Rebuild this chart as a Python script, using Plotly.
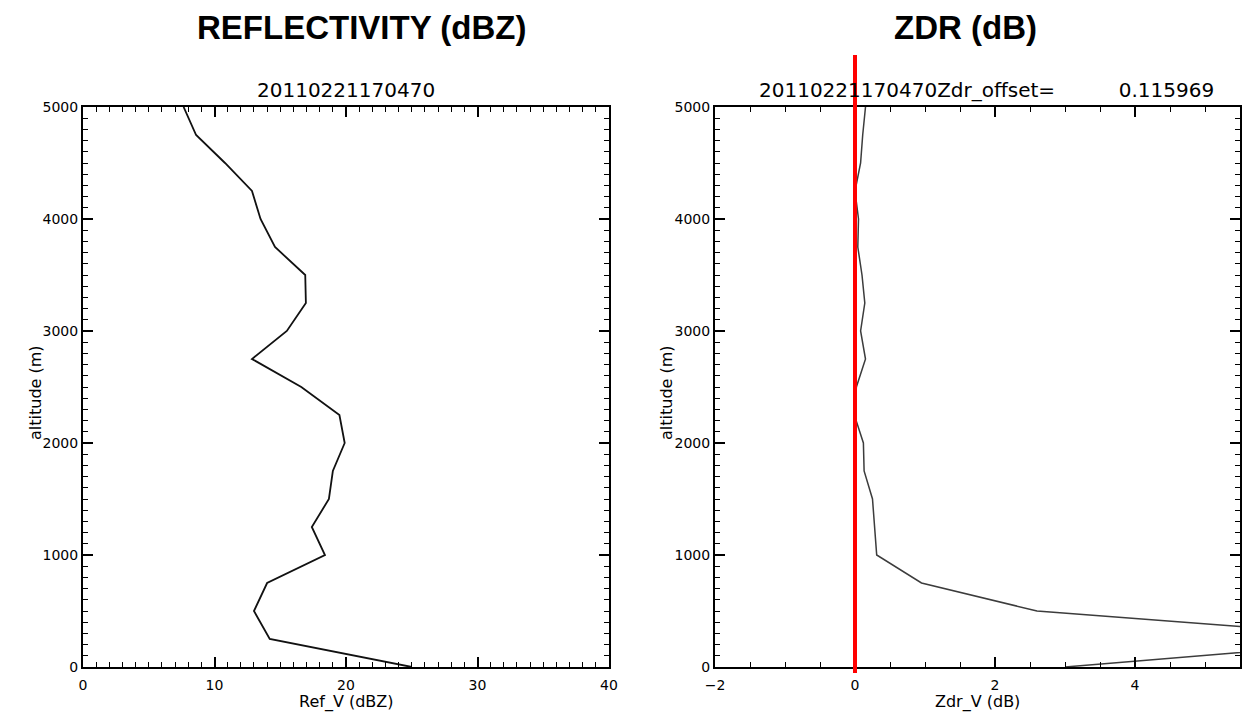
import plotly.graph_objects as go

# ---- data ----
altitude_m = [0, 250, 500, 750, 1000, 1250, 1500, 1750, 2000, 2250, 2500,
              2750, 3000, 3250, 3500, 3750, 4000, 4250, 4500, 4750, 5000]
ref_dbz = [25.0, 14.2, 13.0, 14.0, 18.4, 17.4, 18.7, 19.0, 19.9, 19.5, 16.6,
           12.85, 15.5, 16.95, 16.9, 14.6, 13.5, 12.85, 10.8, 8.6, 7.65]
zdr_db = [3.0, 7.8, 2.6, 0.95, 0.31, 0.28, 0.25, 0.13, 0.12, -0.01, 0.02,
          0.15, 0.08, 0.14, 0.10, 0.04, 0.05, 0.0, 0.08, 0.11, 0.15]
ref_ticks = [0, 10, 20, 30, 40]
zdr_ticks = [-2, 0, 2, 4]
alt_ticks = [0, 1000, 2000, 3000, 4000, 5000]
zdr_reference = 0.0

W, H = 1246, 715
T, B = 107, 48
PH = H - T - B


def py(px):
    return (H - B - px) / PH


fig = go.Figure()
fig.add_trace(go.Scatter(x=ref_dbz, y=altitude_m, mode="lines",
                         line=dict(color="#111111", width=1.8),
                         xaxis="x", yaxis="y", showlegend=False))
fig.add_trace(go.Scatter(x=zdr_db, y=altitude_m, mode="lines",
                         line=dict(color="#3c3c3c", width=1.5),
                         xaxis="x2", yaxis="y2", showlegend=False))

tickfont = dict(family="DejaVu Sans", size=14, color="black")
common = dict(showline=True, linecolor="black", linewidth=2, mirror="ticks",
              ticks="inside", ticklen=10, tickwidth=1.5, tickcolor="black",
              showgrid=False, zeroline=False, tickfont=tickfont,
              automargin=False)


def minor(d):
    return dict(ticks="inside", ticklen=5, tickwidth=1.3, tickcolor="black",
                dtick=d, showgrid=False)


fig.update_layout(
    width=W, height=H, margin=dict(l=0, r=0, t=T, b=B),
    paper_bgcolor="white", plot_bgcolor="white",
    xaxis=dict(domain=[83 / W, 609 / W], range=[0, 40], tickvals=ref_ticks,
               anchor="y", minor=minor(1), ticklabelstandoff=4, **common),
    yaxis=dict(domain=[0, 1], range=[0, 5000], tickvals=alt_ticks,
               anchor="x", minor=minor(100), **common),
    xaxis2=dict(domain=[715 / W, 1240 / W], range=[-2, 5.5], tickvals=zdr_ticks,
                anchor="y2", minor=minor(0.5), ticklabelstandoff=4, **common),
    yaxis2=dict(domain=[0, 1], range=[0, 5000], tickvals=alt_ticks,
                anchor="x2", minor=minor(100), **common),
)

fig.add_shape(type="line", xref="x2", yref="paper", x0=zdr_reference, x1=zdr_reference,
              y0=py(673), y1=py(55), line=dict(color="#ff0000", width=4))

ann = []
ann.append(dict(text="<b>REFLECTIVITY (dBZ)</b>", x=361 / W, y=py(27),
                font=dict(family="Liberation Sans", size=33, color="black")))
ann.append(dict(text="<b>ZDR (dB)</b>", x=965 / W, y=py(27),
                font=dict(family="Liberation Sans", size=33, color="black")))
ann.append(dict(text="20110221170470", x=346 / W, y=py(90),
                font=dict(family="DejaVu Sans", size=20, color="black")))
ann.append(dict(text="20110221170470Zdr_offset=" + "\u00a0" * 10 + "0.115969",
                x=757 / W, y=py(90), xanchor="left",
                font=dict(family="DejaVu Sans", size=20, color="black")))
ann.append(dict(text="Ref_V (dBZ)", x=346 / W, y=py(702),
                font=dict(family="DejaVu Sans", size=16, color="black")))
ann.append(dict(text="Zdr_V (dB)", x=977 / W, y=py(702),
                font=dict(family="DejaVu Sans", size=16, color="black")))
ann.append(dict(text="altitude (m)", x=35 / W, y=py(393), textangle=-90,
                font=dict(family="DejaVu Sans", size=16, color="black")))
ann.append(dict(text="altitude (m)", x=666 / W, y=py(393), textangle=-90,
                font=dict(family="DejaVu Sans", size=16, color="black")))
for a in ann:
    a.setdefault("xanchor", "center")
    a.update(xref="paper", yref="paper", showarrow=False, yanchor="middle")
    fig.add_annotation(**a)

fig.write_html("out.html")
